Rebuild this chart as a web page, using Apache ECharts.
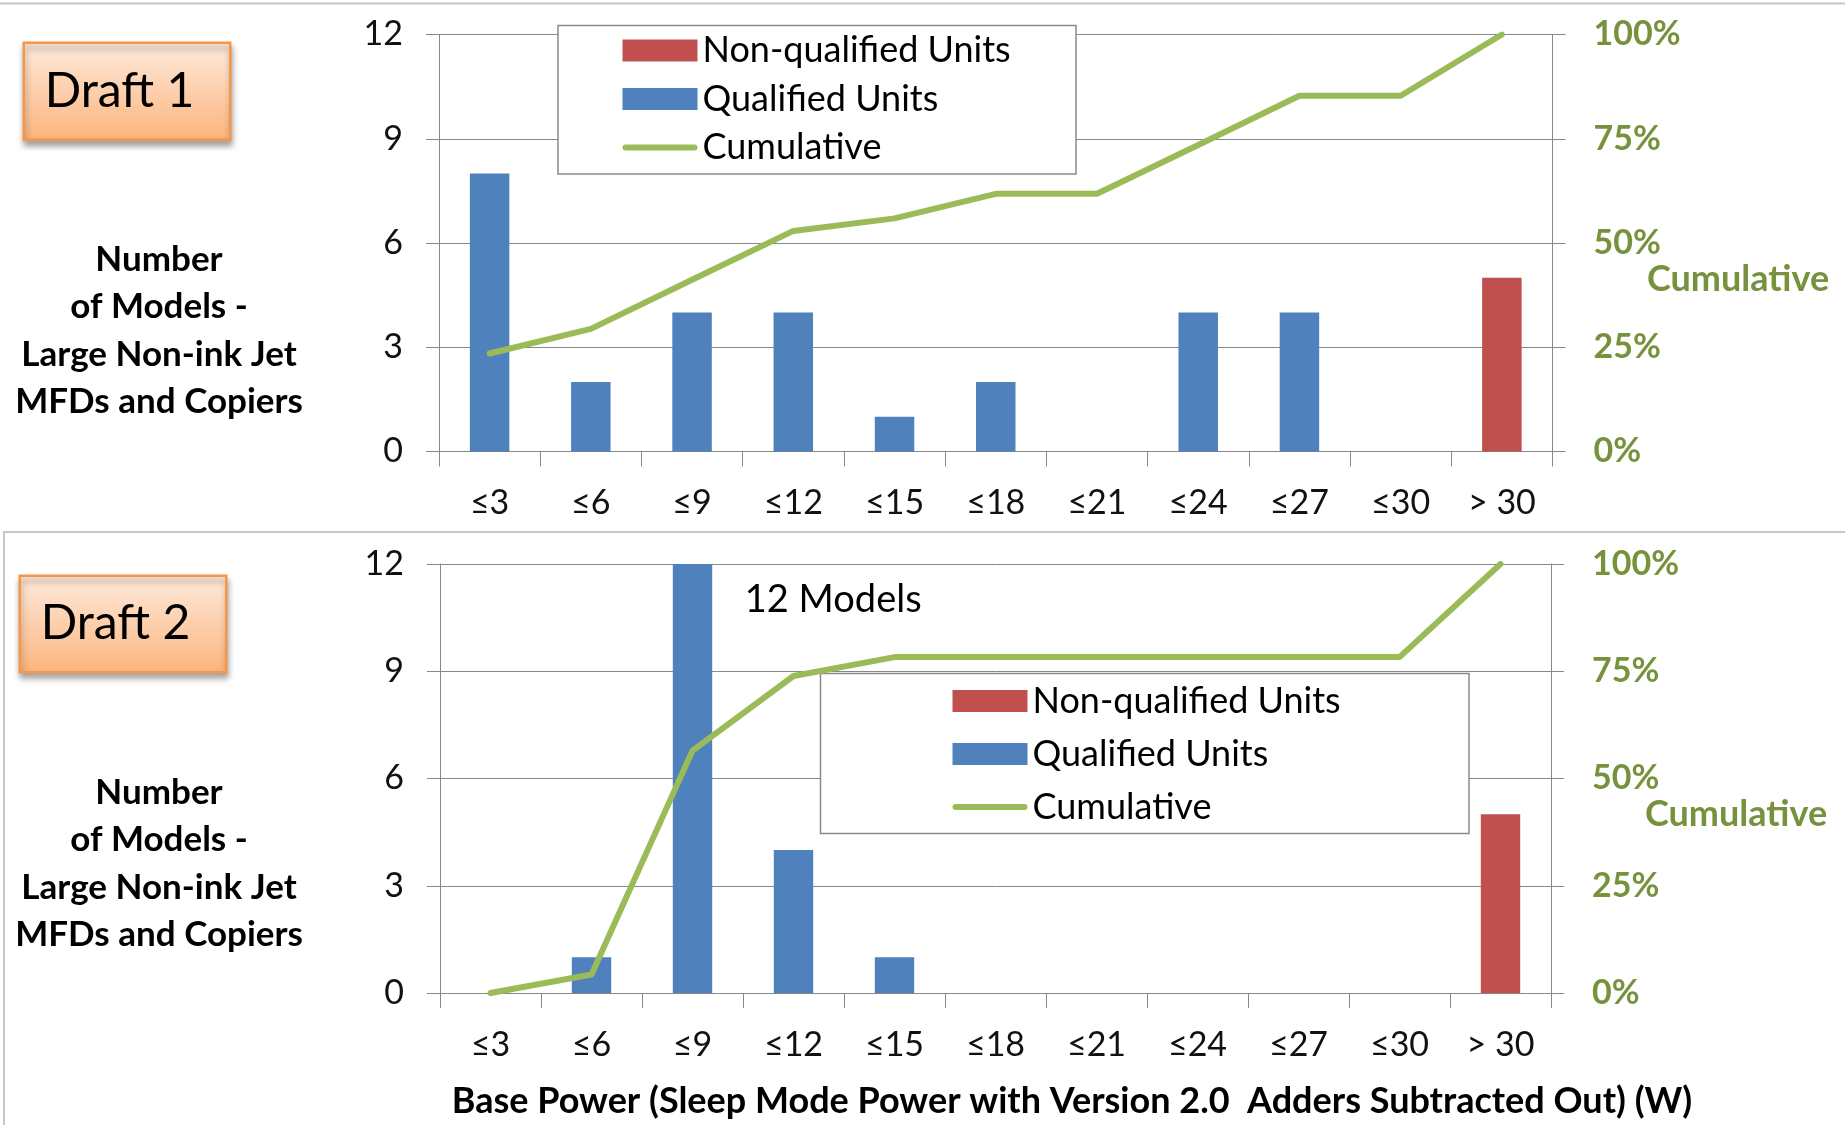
<!DOCTYPE html>
<html>
<head>
<meta charset="utf-8">
<script src="https://cdn.jsdelivr.net/npm/echarts@6/dist/echarts.min.js"></script>
<style>
html,body{margin:0;padding:0;background:#fff;}
#chart{width:1845px;height:1125px;}
</style>
</head>
<body>
<div id="chart"></div>
<script>
// ---- data ----
const categories = ['≤3','≤6','≤9','≤12','≤15','≤18','≤21','≤24','≤27','≤30','> 30'];
const draft1Qualified    = [8, 2, 4, 4, 1, 2, 0, 4, 4, 0, 0];
const draft1NonQualified = [0, 0, 0, 0, 0, 0, 0, 0, 0, 0, 5];
const draft1Cumulative   = [0.235, 0.294, 0.412, 0.529, 0.559, 0.618, 0.618, 0.735, 0.853, 0.853, 1.0];
const draft2Qualified    = [0, 1, 12, 4, 1, 0, 0, 0, 0, 0, 0];
const draft2NonQualified = [0, 0, 0, 0, 0, 0, 0, 0, 0, 0, 5];
const draft2Cumulative   = [0, 0.043, 0.565, 0.739, 0.783, 0.783, 0.783, 0.783, 0.783, 0.783, 1.0];
const seriesNames = ['Non-qualified Units', 'Qualified Units', 'Cumulative'];
const draftTitles = ['Draft 1', 'Draft 2'];
const yTitle = 'Number\nof Models -\nLarge Non-ink Jet\nMFDs and Copiers';
const xTitle = 'Base Power (Sleep Mode Power with Version 2.0  Adders Subtracted Out) (W)';
const rightTitle = 'Cumulative';
const annotation = '12 Models';

// ---- style ----
const FONT = 'Lato';
const BLUE = '#4F81BD', RED = '#C0504D', GREEN = '#9BBB59', GREEN_TXT = '#76923C';
const GRID_C = '#878787';

const chart = echarts.init(document.getElementById('chart'), null, {renderer: 'canvas'});

const grids = [
  {left: 439, top: 34.5, width: 1113.5, height: 417},
  {left: 440, top: 564, width: 1111, height: 429}
];

function xAxisFor(i, withName) {
  const ax = {
    type: 'category', gridIndex: i, data: categories, boundaryGap: true,
    axisLine: {lineStyle: {color: GRID_C, width: 1}},
    axisTick: {show: true, length: 15, lineStyle: {color: GRID_C}},
    axisLabel: {color: '#111', fontSize: 34, fontFamily: FONT, margin: 35, interval: 0}
  };
  if (withName) {
    ax.name = xTitle;
    ax.nameLocation = 'middle';
    ax.nameGap = 90;
    ax.nameTextStyle = {fontSize: 36, fontWeight: 'bold', fontFamily: FONT, color: '#000', padding: [0, 0, 0, 153]};
  }
  return ax;
}
function yLeftFor(i) {
  return {
    type: 'value', gridIndex: i, min: 0, max: 12, interval: 3,
    axisLine: {show: true, lineStyle: {color: GRID_C}},
    axisTick: {show: true, length: 13, lineStyle: {color: GRID_C}},
    splitLine: {lineStyle: {color: GRID_C, width: 1}},
    axisLabel: {color: '#111', fontSize: 34, fontFamily: FONT, margin: 36}
  };
}
function yRightFor(i) {
  return {
    type: 'value', gridIndex: i, min: 0, max: 1, interval: 0.25, position: 'right',
    axisLine: {show: true, lineStyle: {color: GRID_C}},
    axisTick: {show: true, length: 13, lineStyle: {color: GRID_C}},
    splitLine: {show: false},
    axisLabel: {color: GREEN_TXT, fontSize: 34, fontWeight: 'bold', fontFamily: FONT, margin: 41,
      formatter: v => Math.round(v * 100) + '%'}
  };
}

function seriesFor(i, q, nq, cum, annotate) {
  const qData = q.map((v, k) => {
    if (annotate && v === 12) {
      return {value: v, label: {show: true, formatter: annotation, position: [72, 36],
        align: 'left', verticalAlign: 'middle', fontSize: 38, fontFamily: FONT, color: '#000'}};
    }
    return v;
  });
  return [
    {name: seriesNames[0], type: 'bar', xAxisIndex: i, yAxisIndex: i * 2, stack: 's' + i,
      barWidth: '39%', data: nq, itemStyle: {color: RED}, z: 2},
    {name: seriesNames[1], type: 'bar', xAxisIndex: i, yAxisIndex: i * 2, stack: 's' + i,
      barWidth: '39%', data: qData, itemStyle: {color: BLUE}, z: 2},
    {name: seriesNames[2], type: 'line', xAxisIndex: i, yAxisIndex: i * 2 + 1, data: cum,
      symbol: 'none', showSymbol: false,
      lineStyle: {color: GREEN, width: 6, cap: 'round', join: 'round'},
      itemStyle: {color: GREEN}, z: 5}
  ];
}

function legendFor(left, top, gap) {
  return {
    orient: 'vertical', left: left, top: top, padding: 0, itemGap: gap,
    itemWidth: 75, itemHeight: 22, symbolKeepAspect: true,
    textStyle: {fontSize: 36, fontFamily: FONT, color: '#000', lineHeight: 40},
    data: [
      {name: seriesNames[0], icon: 'rect'},
      {name: seriesNames[1], icon: 'rect'},
      {name: seriesNames[2], icon: 'path://M3,0 L72,0 A3,3 0 0 1 72,6 L3,6 A3,3 0 0 1 3,0 Z', itemStyle: {color: GREEN}}
    ]
  };
}

function draftBox(x, y, w, h, text) {
  return {
    type: 'group', left: x, top: y, z: 10,
    children: [
      {type: 'rect', shape: {x: 0, y: 0, width: w, height: h},
        style: {
          fill: new echarts.graphic.LinearGradient(0, 0, 0, 1, [
            {offset: 0, color: '#FEEBDD'}, {offset: 1, color: '#FBB47C'}]),
          stroke: '#F79646', lineWidth: 2.5,
          shadowBlur: 6, shadowOffsetX: 1, shadowOffsetY: 5, shadowColor: 'rgba(0,0,0,0.35)'
        }},
      {type: 'text', x: 21, y: h / 2,
        style: {text: text, font: '48px ' + FONT, fill: '#000', verticalAlign: 'middle', align: 'left'}}
    ]
  };
}

function yTitleText(cx, cy) {
  return {type: 'text', x: cx, y: cy, z: 10,
    style: {text: yTitle, font: 'bold 35px ' + FONT, fill: '#000', align: 'center',
      verticalAlign: 'middle', lineHeight: 47.5}};
}
function rightTitleText(x, cy) {
  return {type: 'text', x: x, y: cy, z: 10,
    style: {text: rightTitle, font: 'bold 36px ' + FONT, fill: GREEN_TXT, align: 'left',
      verticalAlign: 'middle'}};
}

const option = {
  backgroundColor: '#fff',
  animation: false,
  textStyle: {fontFamily: FONT},
  grid: grids,
  xAxis: [xAxisFor(0, false), xAxisFor(1, true)],
  yAxis: [yLeftFor(0), yRightFor(0), yLeftFor(1), yRightFor(1)],
  legend: [legendFor(622.5, 30.5, 8.5), legendFor(952.5, 681, 13)],
  series: [].concat(
    seriesFor(0, draft1Qualified, draft1NonQualified, draft1Cumulative, false),
    seriesFor(1, draft2Qualified, draft2NonQualified, draft2Cumulative, true)
  ),
  graphic: [
    {type: 'line', z: 0, shape: {x1: 0, y1: 3.5, x2: 1845, y2: 3.5},
      style: {stroke: '#C8C8C8', lineWidth: 2}},
    {type: 'rect', z: 0, shape: {x: 4, y: 532, width: 1900, height: 700},
      style: {fill: 'none', stroke: '#C8C8C8', lineWidth: 2}},
    {type: 'rect', z: 1, shape: {x: 558, y: 25.5, width: 518, height: 148.5},
      style: {fill: '#fff', stroke: '#8A8A8A', lineWidth: 1.5}},
    {type: 'rect', z: 1, shape: {x: 820.5, y: 673.5, width: 648.5, height: 160},
      style: {fill: '#fff', stroke: '#8A8A8A', lineWidth: 1.5}},
    draftBox(22.5, 41.5, 206.5, 97, draftTitles[0]),
    draftBox(18.5, 574.5, 206.5, 96.5, draftTitles[1]),
    yTitleText(159, 330.5),
    yTitleText(159, 863.5),
    rightTitleText(1647, 279),
    rightTitleText(1645, 814)
  ]
};
chart.setOption(option);
</script>
</body>
</html>
